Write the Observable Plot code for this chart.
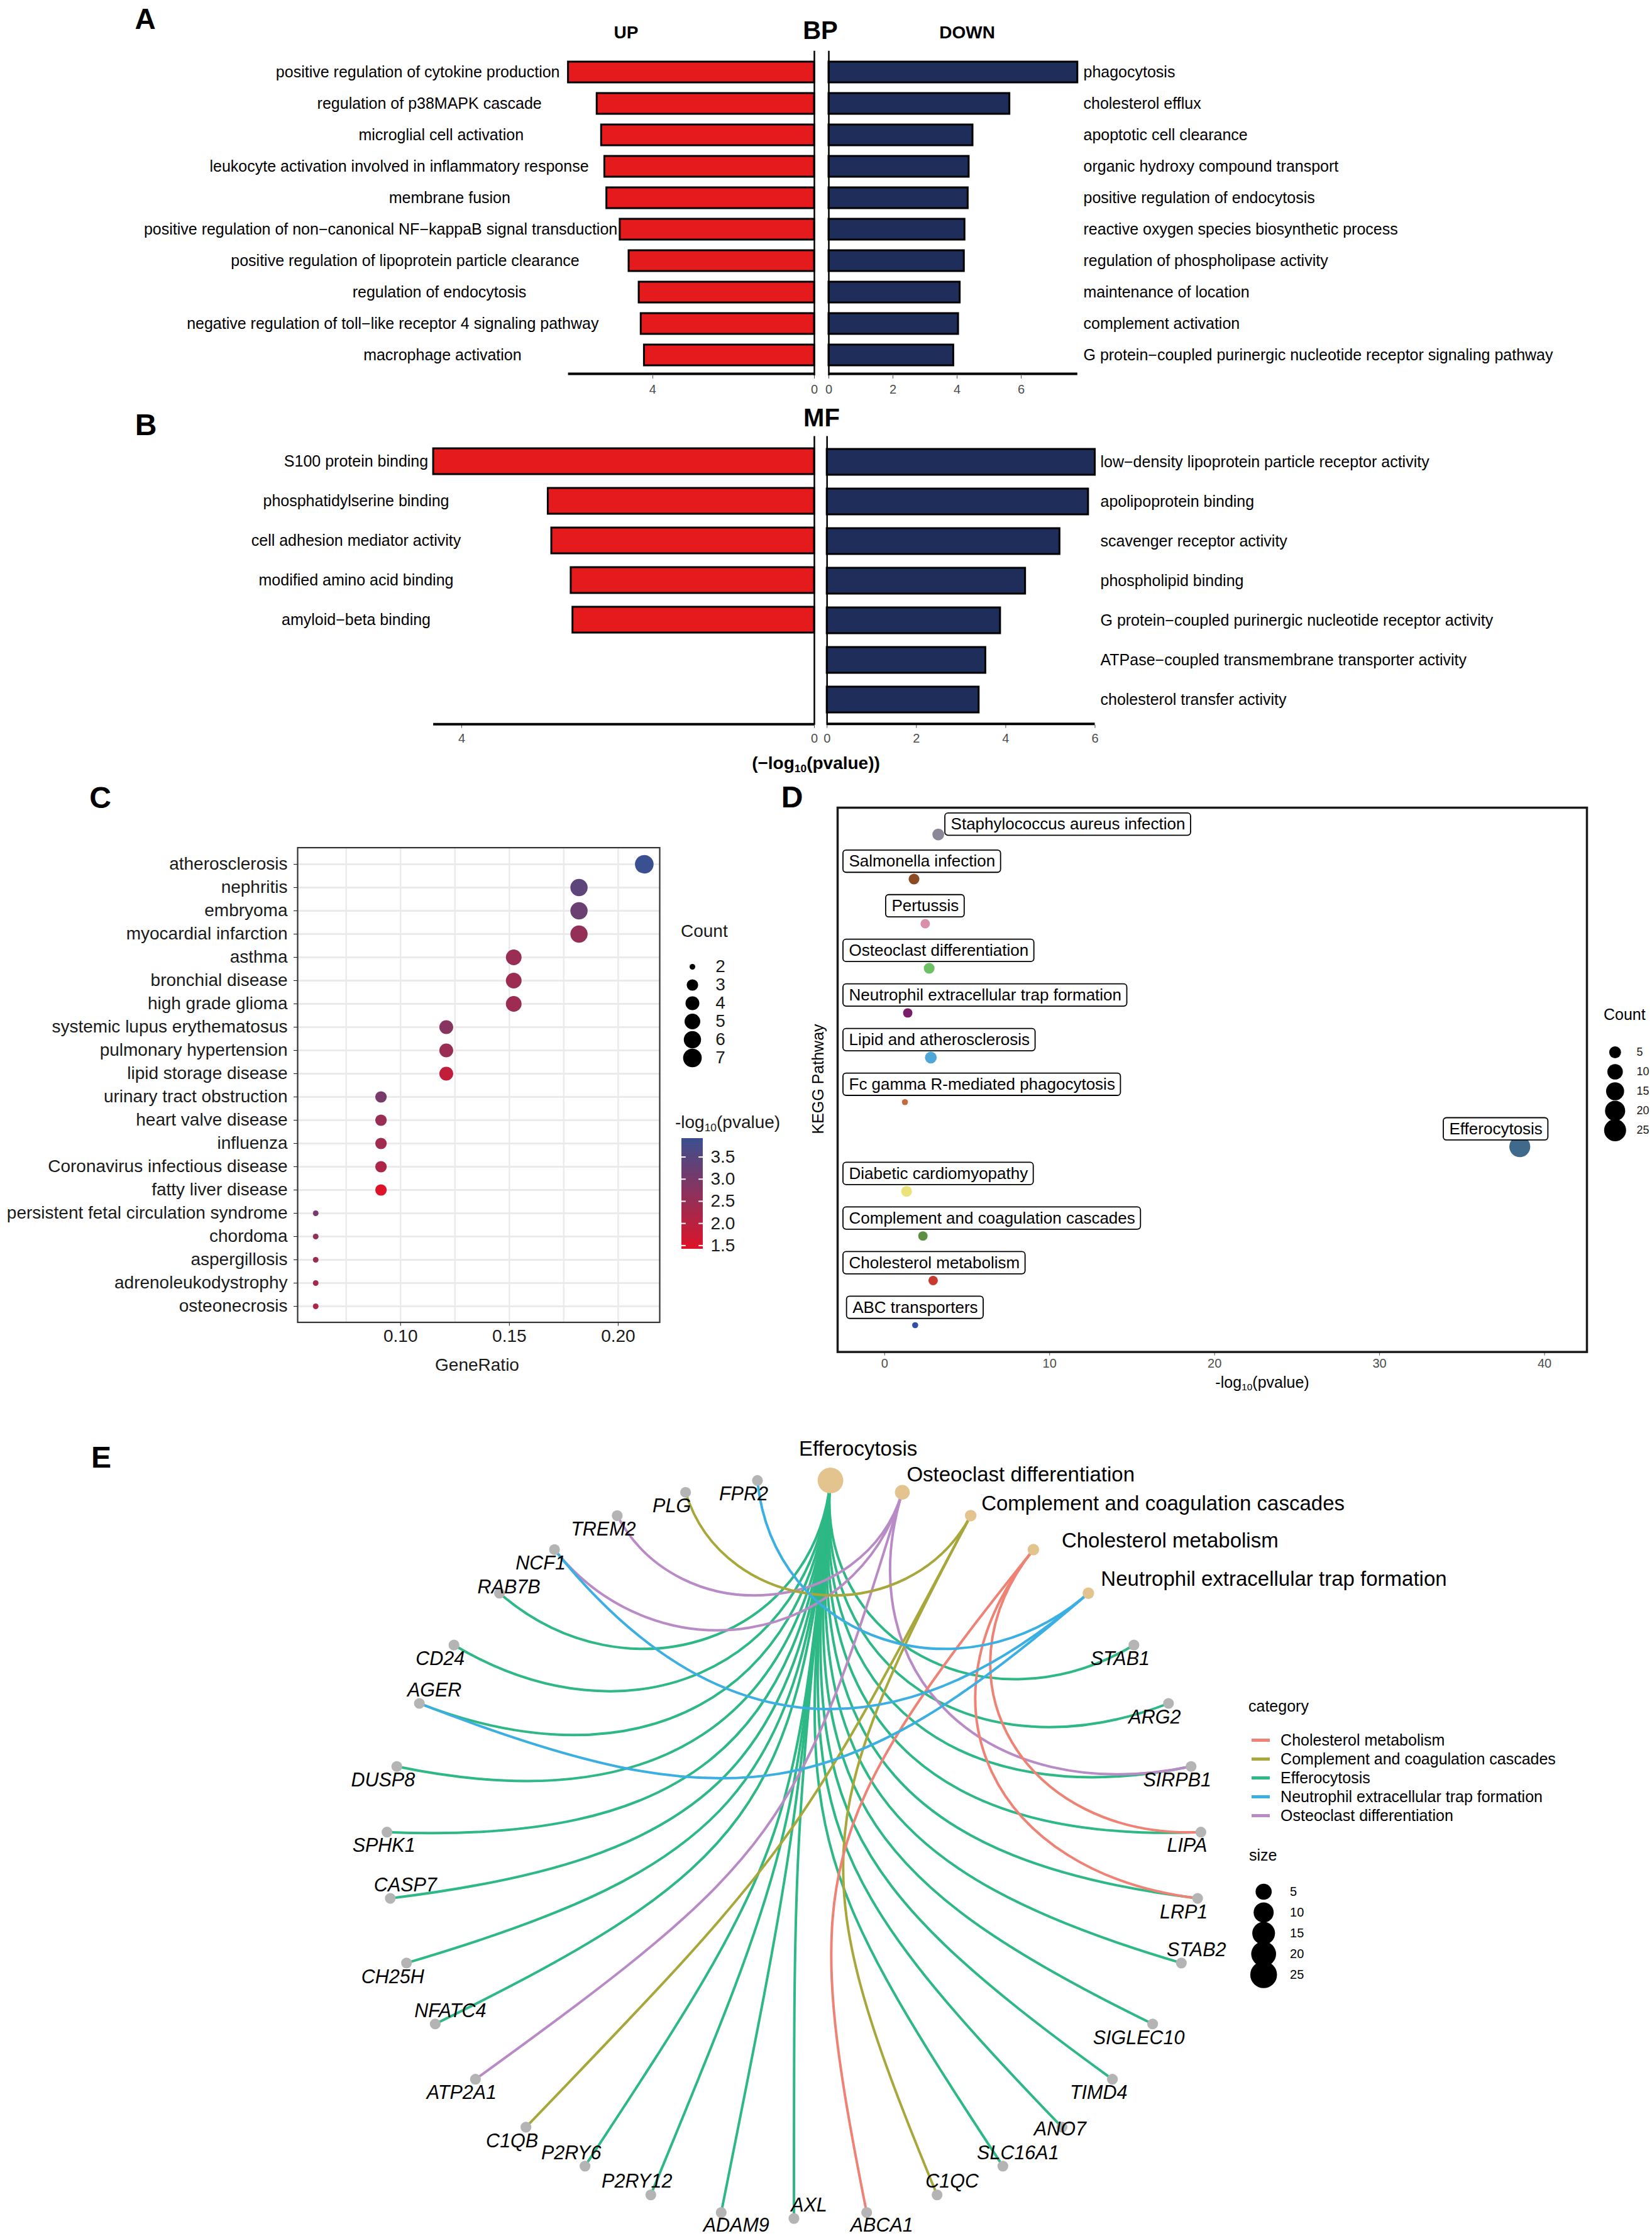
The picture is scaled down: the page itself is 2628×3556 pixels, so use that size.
<!DOCTYPE html>
<html>
<head>
<meta charset="utf-8">
<script src="https://cdn.jsdelivr.net/npm/d3@7"></script>
<script src="https://cdn.jsdelivr.net/npm/@observablehq/plot@0.6"></script>
<style>
html, body { margin: 0; padding: 0; background: #fff; }
#page { position: relative; width: 2628px; height: 3556px; overflow: hidden; background: #fff;
  font-family: "Liberation Sans", Arial, Helvetica, sans-serif; }
.box { position: absolute; }
.lbl { position: absolute; white-space: nowrap; line-height: 1; color: #000; }
.lbl sub { font-size: 0.62em; vertical-align: -0.28em; line-height: 0; }
</style>
</head>
<body>
<div id="page"></div>
<script>
// ====================== DATA ======================
// Panel A (BP)
const bpUpTerms = [
  "positive regulation of cytokine production",
  "regulation of p38MAPK cascade",
  "microglial cell activation",
  "leukocyte activation involved in inflammatory response",
  "membrane fusion",
  "positive regulation of non−canonical NF−kappaB signal transduction",
  "positive regulation of lipoprotein particle clearance",
  "regulation of endocytosis",
  "negative regulation of toll−like receptor 4 signaling pathway",
  "macrophage activation"
];
const bpUpValues = [6.09, 5.38, 5.27, 5.19, 5.14, 4.81, 4.59, 4.34, 4.29, 4.21];
const bpDownTerms = [
  "phagocytosis",
  "cholesterol efflux",
  "apoptotic cell clearance",
  "organic hydroxy compound transport",
  "positive regulation of endocytosis",
  "reactive oxygen species biosynthetic process",
  "regulation of phospholipase activity",
  "maintenance of location",
  "complement activation",
  "G protein−coupled purinergic nucleotide receptor signaling pathway"
];
const bpDownValues = [7.76, 5.64, 4.49, 4.37, 4.34, 4.24, 4.22, 4.09, 4.04, 3.89];

// Panel B (MF)
const mfUpTerms = [
  "S100 protein binding",
  "phosphatidylserine binding",
  "cell adhesion mediator activity",
  "modified amino acid binding",
  "amyloid−beta binding"
];
const mfUpValues = [4.32, 3.02, 2.98, 2.76, 2.74];
const mfDownTerms = [
  "low−density lipoprotein particle receptor activity",
  "apolipoprotein binding",
  "scavenger receptor activity",
  "phospholipid binding",
  "G protein−coupled purinergic nucleotide receptor activity",
  "ATPase−coupled transmembrane transporter activity",
  "cholesterol transfer activity"
];
const mfDownValues = [6.00, 5.85, 5.21, 4.44, 3.88, 3.55, 3.40];
const upTicks = [0, 4];
const downTicks = [0, 2, 4, 6];

// Panel C (disease enrichment)
const diseases = [
  "atherosclerosis", "nephritis", "embryoma", "myocardial infarction", "asthma",
  "bronchial disease", "high grade glioma", "systemic lupus erythematosus", "pulmonary hypertension",
  "lipid storage disease", "urinary tract obstruction", "heart valve disease", "influenza",
  "Coronavirus infectious disease", "fatty liver disease", "persistent fetal circulation syndrome",
  "chordoma", "aspergillosis", "adrenoleukodystrophy", "osteonecrosis"
];
const diseaseGeneRatio = [0.212, 0.182, 0.182, 0.182, 0.152, 0.152, 0.152, 0.121, 0.121, 0.121,
  0.091, 0.091, 0.091, 0.091, 0.091, 0.061, 0.061, 0.061, 0.061, 0.061];
const diseaseCount = [7, 6, 6, 6, 5, 5, 5, 4, 4, 4, 3, 3, 3, 3, 3, 2, 2, 2, 2, 2];
const diseaseLogP = [3.92, 3.40, 3.20, 2.55, 2.45, 2.42, 2.42, 2.75, 2.45, 1.85,
  3.00, 2.45, 2.35, 2.15, 1.42, 3.00, 2.60, 2.45, 2.35, 2.15];
const cTicks = [0.10, 0.15, 0.20];
const cGrid = [0.075, 0.10, 0.125, 0.15, 0.175, 0.20];
const cCountKeys = [2, 3, 4, 5, 6, 7];
const cColorBreaks = [1.5, 2.0, 2.5, 3.0, 3.5];

// Panel D (KEGG)
const keggPathways = [
  "Staphylococcus aureus infection", "Salmonella infection", "Pertussis", "Osteoclast differentiation",
  "Neutrophil extracellular trap formation", "Lipid and atherosclerosis", "Fc gamma R-mediated phagocytosis",
  "Efferocytosis", "Diabetic cardiomyopathy", "Complement and coagulation cascades",
  "Cholesterol metabolism", "ABC transporters"
];
const keggLogP = [3.25, 1.78, 2.46, 2.70, 1.40, 2.80, 1.23, 38.5, 1.33, 2.32, 2.94, 1.85];
const keggCount = [5, 4, 3, 4, 3, 5, 2, 22, 4, 3, 3, 2];
const keggColors = ["#8B8799", "#8C4A22", "#D98FA8", "#6CC164", "#7B1C6A", "#4FA6D8",
  "#C46A3E", "#3F6A8C", "#ECE27A", "#5B8F42", "#C8392E", "#2F4FA8"];
const dTicks = [0, 10, 20, 30, 40];
const dCountKeys = [5, 10, 15, 20, 25];

// Panel E (gene-concept network)
const ePathways = ["Efferocytosis", "Osteoclast differentiation", "Complement and coagulation cascades",
  "Cholesterol metabolism", "Neutrophil extracellular trap formation"];
const ePathwayCount = [22, 4, 3, 3, 3];
const eGenes = ["STAB1", "ARG2", "SIRPB1", "LIPA", "LRP1", "STAB2", "SIGLEC10", "TIMD4", "ANO7",
  "SLC16A1", "C1QC", "ABCA1", "AXL", "ADAM9", "P2RY12", "P2RY6", "C1QB", "ATP2A1", "NFATC4",
  "CH25H", "CASP7", "SPHK1", "DUSP8", "AGER", "CD24", "RAB7B", "NCF1", "TREM2", "PLG", "FPR2"];
const efferocytosisGenes = ["STAB1", "ARG2", "SIRPB1", "LIPA", "LRP1", "STAB2", "SIGLEC10", "TIMD4",
  "ANO7", "SLC16A1", "AXL", "ADAM9", "P2RY12", "P2RY6", "NFATC4", "CH25H", "CASP7", "SPHK1",
  "DUSP8", "AGER", "CD24", "RAB7B"];
const osteoclastGenes = ["SIRPB1", "ATP2A1", "NCF1", "TREM2"];
const complementGenes = ["C1QC", "C1QB", "PLG"];
const cholesterolGenes = ["LIPA", "LRP1", "ABCA1"];
const netGenes = ["AGER", "NCF1", "FPR2"];
const categoryOrder = ["Cholesterol metabolism", "Complement and coagulation cascades", "Efferocytosis",
  "Neutrophil extracellular trap formation", "Osteoclast differentiation"];
const categoryColors = ["#EE8274", "#A8A73B", "#2DB886", "#3BAFE2", "#B98BC6"];
const eSizeKeys = [5, 10, 15, 20, 25];

// ====================== HELPERS ======================
const FONT = '"Liberation Sans", Arial, Helvetica, sans-serif';
const page = document.getElementById("page");
const ctx = document.createElement("canvas").getContext("2d");
const intFormat = d3.format("d");
function textWidth(s, size, fontStyle = "normal") {
  ctx.font = `${fontStyle} normal ${size}px ${FONT}`;
  return ctx.measureText(s).width;
}
function place(node, left, top, w, h) {
  const d = document.createElement("div");
  d.className = "box";
  d.style.left = left + "px"; d.style.top = top + "px";
  d.style.width = w + "px"; d.style.height = h + "px";
  d.appendChild(node);
  page.appendChild(d);
}
function label(html, x, y, o = {}) {
  const d = document.createElement("div");
  d.className = "lbl";
  d.innerHTML = html;
  d.style.fontSize = (o.size || 25) + "px";
  d.style.fontWeight = o.weight || "normal";
  d.style.color = o.color || "#000";
  if (o.lineHeight) d.style.lineHeight = o.lineHeight;
  d.style.left = x + "px"; d.style.top = y + "px";
  const tx = o.anchor === "start" ? "0" : o.anchor === "end" ? "-100%" : "-50%";
  d.style.transform = `translate(${tx},-50%)` + (o.rotate ? ` rotate(${o.rotate}deg)` : "");
  page.appendChild(d);
}
function style(extra = {}) {
  return Object.assign({fontFamily: FONT, fontSize: "20px", background: "none", overflow: "visible",
    maxWidth: "none", color: "#4d4d4d"}, extra);
}
// ggplot-like area palette: radius grows with sqrt of the rescaled value
function areaScale(d0, d1, r0, r1) {
  return v => r0 + (r1 - r0) * Math.sqrt(Math.max(0, (v - d0) / (d1 - d0)));
}

// ====================== PANELS A & B ======================
const UP_FILL = "#E41A1C", DOWN_FILL = "#1F2D5A";
function barPanel(o) {
  const n = o.terms.length;
  const data = o.terms.map((t, i) => ({term: t, value: o.values[i]}));
  const max = d3.max(o.values);
  const up = o.side === "up";
  const W = o.width, H = o.height;
  const mTop = o.frameTop - o.top, mBottom = o.top + H - o.frameBottom;
  const mLeft = up ? o.maxX - o.left : o.zeroX - o.left;
  const mRight = up ? o.left + W - o.zeroX : o.left + W - o.maxX;
  const yr = [o.yRange[0] - o.top, o.yRange[1] - o.top];
  const step = (yr[1] - yr[0]) / (n - o.pInner + 2 * o.pOuter);
  const lastCenter = yr[0] + step * o.pOuter + step * (1 - o.pInner) / 2 + (n - 1) * step;
  const axisDy = (o.frameBottom - o.top) - lastCenter;
  const xs = d3.scaleLinear([0, max], [o.zeroX - o.left, o.maxX - o.left]);
  const labels = data.map(d => {
    const w = textWidth(d.term, 25);
    const lx = up ? o.anchorX - o.hjust * w : o.labelX;
    return {term: d.term, lx: xs.invert(lx - o.left)};
  });
  const chart = Plot.plot({
    width: W, height: H,
    marginLeft: mLeft, marginRight: mRight, marginTop: mTop, marginBottom: mBottom,
    style: style(),
    x: {domain: [0, max], reverse: up, ticks: o.ticks, tickFormat: intFormat, tickSize: 5, tickPadding: 9, label: null},
    y: {type: "band", domain: o.terms, range: yr, paddingInner: o.pInner, paddingOuter: o.pOuter, axis: null},
    marks: [
      Plot.barX(data, {x: "value", y: "term", fill: up ? UP_FILL : DOWN_FILL, stroke: "#000", strokeWidth: 3}),
      Plot.ruleX([0], {stroke: "#000", strokeWidth: 2.5}),
      Plot.ruleY([o.terms[n - 1]], {x1: 0, x2: max, stroke: "#000", strokeWidth: 4, dy: axisDy}),
      Plot.text(labels, {x: "lx", y: "term", text: "term", textAnchor: "start", fontSize: 25, fill: "#000"})
    ]
  });
  place(chart, o.left, o.top, W, H);
}

barPanel({side: "up", terms: bpUpTerms, values: bpUpValues, ticks: upTicks,
  left: 0, top: 0, width: 1300, height: 640, zeroX: 1295, maxX: 903.6,
  frameTop: 80.8, frameBottom: 597, yRange: [80.8, 597], pInner: 0.35, pOuter: 0.255,
  anchorX: 752.7, hjust: 0.696});
barPanel({side: "down", terms: bpDownTerms, values: bpDownValues, ticks: downTicks,
  left: 1300, top: 0, width: 1328, height: 640, zeroX: 1318, maxX: 1713.8,
  frameTop: 80.8, frameBottom: 597, yRange: [80.8, 597], pInner: 0.35, pOuter: 0.255,
  labelX: 1723});
barPanel({side: "up", terms: mfUpTerms, values: mfUpValues, ticks: upTicks,
  left: 0, top: 640, width: 1300, height: 620, zeroX: 1295, maxX: 689.1,
  frameTop: 693.5, frameBottom: 1152.7, yRange: [693.5, 1025.1], pInner: 0.357, pOuter: 0.277,
  anchorX: 566, hjust: 0.5});
barPanel({side: "down", terms: mfDownTerms, values: mfDownValues, ticks: downTicks,
  left: 1300, top: 640, width: 1328, height: 620, zeroX: 1315.2, maxX: 1741.5,
  frameTop: 693.5, frameBottom: 1152.7, yRange: [693.5, 1152.7], pInner: 0.357, pOuter: 0.277,
  labelX: 1750});

label("A", 231, 31, {size: 46, weight: "bold", lineHeight: 0.78});
label("BP", 1305, 48, {size: 40, weight: "bold"});
label("UP", 996, 52, {size: 28, weight: "bold"});
label("DOWN", 1538.6, 52, {size: 28, weight: "bold"});
label("B", 232, 676, {size: 48, weight: "bold", lineHeight: 0.78});
label("MF", 1307, 664, {size: 40, weight: "bold"});
label("(−log<sub>10</sub>(pvalue))", 1298, 1214, {size: 28, weight: "bold"});

// ====================== PANEL C ======================
const C_LOW = "#DD1429", C_HIGH = "#3B5090";
const cColor = {type: "linear", domain: [1.42, 3.92], range: [C_LOW, C_HIGH]};
const cSize = areaScale(2, 7, 4.5, 14.8);
const cData = diseases.map((d, i) => ({disease: d, ratio: diseaseGeneRatio[i], count: diseaseCount[i], logp: diseaseLogP[i]}));
{
  const chart = Plot.plot({
    width: 1240, height: 900, marginLeft: 473, marginRight: 191, marginTop: 47.6, marginBottom: 97.5,
    style: style({fontSize: "28px", color: "#1a1a1a"}),
    x: {domain: [0.0527, 0.2191], ticks: cTicks, tickFormat: d3.format(".2f"), tickSize: 6, tickPadding: 5, label: null},
    y: {type: "point", domain: diseases, padding: 0.6, tickSize: 6, tickPadding: 10, label: null},
    color: cColor,
    r: {type: "identity"},
    marks: [
      Plot.ruleX(cGrid, {stroke: "#EBEBEB", strokeWidth: 2.5}),
      Plot.ruleY(diseases, {stroke: "#EBEBEB", strokeWidth: 3}),
      Plot.dot(cData, {x: "ratio", y: "disease", r: d => cSize(d.count), fill: "logp"}),
      Plot.frame({stroke: "#333", strokeWidth: 2.2})
    ]
  });
  place(chart, 0, 1300, 1240, 900);

  const countLegend = Plot.plot({
    width: 160, height: 220, marginLeft: 41, marginRight: 100, marginTop: 10, marginBottom: 10,
    style: style({fontSize: "28px", color: "#1a1a1a"}),
    y: {type: "point", domain: cCountKeys, range: [20.8, 198.4], axis: null},
    r: {type: "identity"},
    marks: [
      Plot.dot(cCountKeys, {frameAnchor: "left", y: d => d, r: d => cSize(d), fill: "#000"}),
      Plot.text(cCountKeys, {frameAnchor: "left", y: d => d, dx: 36.7, text: d => String(d), textAnchor: "start", fontSize: 28, fill: "#1a1a1a"})
    ]
  });
  place(countLegend, 1060, 1500, 160, 220);

  const ramp = d3.range(0, 125).map(i => 1.42 + (3.92 - 1.42) * i / 125);
  const rampStep = (3.92 - 1.42) / 125;
  const colorLegend = Plot.plot({
    width: 200, height: 220, marginLeft: 24, marginRight: 142, marginTop: 20, marginBottom: 24,
    style: style({fontSize: "28px", color: "#1a1a1a"}),
    x: {domain: [0, 1], axis: null},
    y: {domain: [1.42, 3.92], axis: null},
    color: cColor,
    marks: [
      Plot.rect(ramp, {x1: 0, x2: 1, y1: d => d, y2: d => Math.min(3.92, d + rampStep * 1.6), fill: d => d}),
      Plot.ruleY(cColorBreaks, {x1: 0, x2: 0.2, stroke: "#fff", strokeWidth: 2}),
      Plot.ruleY(cColorBreaks, {x1: 0.8, x2: 1, stroke: "#fff", strokeWidth: 2}),
      Plot.text(cColorBreaks, {x: 1, y: d => d, dx: 12, text: d => d.toFixed(1), textAnchor: "start", fontSize: 28, fill: "#1a1a1a"})
    ]
  });
  place(colorLegend, 1060, 1790, 200, 220);
}
label("C", 159.5, 1268.7, {size: 48, weight: "bold", lineHeight: 0.78});
label("GeneRatio", 759, 2170.6, {size: 28, color: "#1a1a1a"});
label("Count", 1083, 1480.6, {size: 28, anchor: "start", color: "#1a1a1a"});
label("-log<sub>10</sub>(pvalue)", 1074, 1785, {size: 28, anchor: "start", color: "#1a1a1a"});

// ====================== PANEL D ======================
{
  const dL = 1240, dT = 1240, dW = 1388, dH = 1000;
  const mL = 1332 - dL, mR = dL + dW - 2524, mT = 1284 - dT, mB = dT + dH - 2149.6;
  const xDomain = [-2.85, 42.57];
  const xs = d3.scaleLinear(xDomain, [mL, dW - mR]);
  const dSize = areaScale(2, 27, 4.83, 18.03);
  const kData = keggPathways.map((p, i) => ({name: p, i, logp: keggLogP[i], count: keggCount[i], color: keggColors[i]}));
  // simple repel: labels sit above their point, kept inside the panel; the top row is pushed to the side;
  // labels near the right edge are nudged inward
  const labels = kData.map(d => {
    const px = xs(d.logp);
    const w = textWidth(d.name, 26) + 18;
    let cx;
    if (d.i === 0) cx = px + 11 + w / 2;
    else if (px > (mL + dW - mR) / 2) cx = Math.min(px - 38, dW - mR - 9 - w / 2);
    else cx = Math.min(Math.max(px, mL + 9 + w / 2), dW - mR - 9 - w / 2);
    return {name: d.name, i: d.i, x1: xs.invert(cx - w / 2), x2: xs.invert(cx + w / 2), xc: xs.invert(cx)};
  });
  const topRow = labels.filter(d => d.i === 0), rest = labels.filter(d => d.i !== 0);
  const boxOpts = (dy) => ({x1: "x1", x2: "x2", y1: d => d.i - 0.25, y2: d => d.i + 0.25, dy, fill: "#fff", stroke: "#000", strokeWidth: 1.8, rx: 5});
  const txtOpts = (dy) => ({x: "xc", y: "i", text: "name", dy, fontSize: 26, fill: "#000"});
  const chart = Plot.plot({
    width: dW, height: dH, marginLeft: mL, marginRight: mR, marginTop: mT, marginBottom: mB,
    style: style({fontSize: "20px", color: "#4d4d4d"}),
    x: {domain: xDomain, ticks: dTicks, tickFormat: intFormat, tickSize: 6, tickPadding: 5, label: null},
    y: {domain: [-0.6, keggPathways.length - 0.4], reverse: true, axis: null},
    color: {type: "identity"},
    r: {type: "identity"},
    marks: [
      Plot.dot(kData, {x: "logp", y: "i", r: d => dSize(d.count), fill: "color"}),
      Plot.rect(rest, boxOpts(-28)),
      Plot.text(rest, txtOpts(-28)),
      Plot.rect(topRow, boxOpts(-16)),
      Plot.text(topRow, txtOpts(-16)),
      Plot.frame({stroke: "#1a1a1a", strokeWidth: 3.5})
    ]
  });
  place(chart, dL, dT, dW, dH);

  const legend = Plot.plot({
    width: 88, height: 210, marginLeft: 28.8, marginRight: 40, marginTop: 10, marginBottom: 10,
    style: style({fontSize: "18px", color: "#1a1a1a"}),
    y: {type: "point", domain: dCountKeys, range: [26, 184], axis: null},
    r: {type: "identity"},
    marks: [
      Plot.dot(dCountKeys, {frameAnchor: "left", y: d => d, r: d => dSize(d), fill: "#000"}),
      Plot.text(dCountKeys, {frameAnchor: "left", y: d => d, dx: 34.2, text: d => String(d), textAnchor: "start", fontSize: 18, fill: "#1a1a1a"})
    ]
  });
  place(legend, 2540, 1630, 88, 210);
}
label("D", 1260, 1268, {size: 48, weight: "bold", lineHeight: 0.78});
label("KEGG Pathway", 1300.8, 1716, {size: 25, rotate: -90});
label("-log<sub>10</sub>(pvalue)", 2008, 2198, {size: 25});
label("Count", 2551, 1612.6, {size: 25, anchor: "start"});

// ====================== PANEL E ======================
{
  const eL = 0, eT = 2250, eW = 2628, eH = 1306;
  const mL = 614.5, mR = eW - 1910.5, mT = 2351.6 - eT, mB = eT + eH - 3527.6;
  const EA = (eW - mL - mR) / 2, EB = (eH - mT - mB) / 2;
  const ECX = mL + EA, ECY = mT + EB;
  const nodes = [...ePathways, ...eGenes];
  const N = nodes.length;
  const pos = new Map(nodes.map((n, i) => {
    const t = (i + 0.5) * 2 * Math.PI / N;     // circular layout, clockwise from top
    return [n, [Math.sin(t), Math.cos(t)]];
  }));
  const colorOf = new Map(categoryOrder.map((c, i) => [c, categoryColors[i]]));
  const sets = [efferocytosisGenes, osteoclastGenes, complementGenes, cholesterolGenes, netGenes];
  const edges = ePathways.flatMap((p, k) => sets[k].map(g => ({p, g})));
  // arc edges bending toward the layout centre (cubic bezier, controls pulled to the centre)
  function arcCurve(context) {
    let pts = [];
    return {
      lineStart() { pts = []; },
      point(x, y) { pts.push([x, y]); },
      lineEnd() {
        const [[x0, y0], [x1, y1]] = [pts[0], pts[pts.length - 1]];
        const u0 = (x0 - ECX) / EA, v0 = (ECY - y0) / EB, u1 = (x1 - ECX) / EA, v1 = (ECY - y1) / EB;
        const c = Math.max(-1, Math.min(1, (u0 * u1 + v0 * v1) / (Math.hypot(u0, v0) * Math.hypot(u1, v1))));
        const k = 1 - Math.sin(Math.acos(c) / 2);
        context.moveTo(x0, y0);
        context.bezierCurveTo(ECX + k * (x0 - ECX), ECY + k * (y0 - ECY), ECX + k * (x1 - ECX), ECY + k * (y1 - ECY), x1, y1);
      },
      areaStart() {}, areaEnd() {}
    };
  }
  const eSize = areaScale(3, 22, 9.2, 20.4);
  const geneData = eGenes.map(g => ({name: g, x: pos.get(g)[0], y: pos.get(g)[1]}));
  const pathData = ePathways.map((p, i) => ({name: p, count: ePathwayCount[i], x: pos.get(p)[0], y: pos.get(p)[1]}));
  const geneSide = {RAB7B: "R", AGER: "AR", CASP7: "AR", NFATC4: "AR", AXL: "AR", C1QC: "AR", SLC16A1: "AR",
    STAB2: "AR", P2RY6: "AL", P2RY12: "AL", ADAM9: "BR", ABCA1: "BR", SPHK1: "B", ANO7: "C"};
  const sideOffset = {BL: [-22, 22], AR: [24, -21], AL: [-22, -21], BR: [24, 21], B: [-5, 22], C: [-3, 3], R: [15, -10]};
  const geneLabelMarks = Object.entries(sideOffset).map(([side, [dx, dy]]) =>
    Plot.text(geneData.filter(d => (geneSide[d.name] || "BL") === side),
      {x: "x", y: "y", text: "name", dx, dy, fontSize: 30.5, fontStyle: "italic", fill: "#000"}));
  const pathNudge = {
    "Efferocytosis": ["middle", 44, -50],
    "Osteoclast differentiation": ["start", 7, -28],
    "Complement and coagulation cascades": ["start", 17, -19],
    "Cholesterol metabolism": ["start", 45, -14],
    "Neutrophil extracellular trap formation": ["start", 20, -22]
  };
  const pathLabelMarks = pathData.map(d => {
    const [anchor, dx, dy] = pathNudge[d.name];
    return Plot.text([d], {x: "x", y: "y", text: "name", dx, dy, textAnchor: anchor, fontSize: 33, fill: "#000"});
  });
  const chart = Plot.plot({
    width: eW, height: eH, marginLeft: mL, marginRight: mR, marginTop: mT, marginBottom: mB,
    style: style(),
    x: {domain: [-1, 1], axis: null},
    y: {domain: [-1, 1], axis: null},
    color: {type: "identity"},
    r: {type: "identity"},
    marks: [
      Plot.link(edges, {
        x1: d => pos.get(d.p)[0], y1: d => pos.get(d.p)[1],
        x2: d => pos.get(d.g)[0], y2: d => pos.get(d.g)[1],
        stroke: d => colorOf.get(d.p), strokeWidth: 4, curve: arcCurve
      }),
      Plot.dot(geneData, {x: "x", y: "y", r: 8.6, fill: "#B4B4B4"}),
      Plot.dot(pathData, {x: "x", y: "y", r: d => eSize(d.count), fill: "#E3C38E"}),
      ...geneLabelMarks,
      ...pathLabelMarks
    ]
  });
  place(chart, eL, eT, eW, eH);

  const catLegend = Plot.plot({
    width: 600, height: 220, marginLeft: 21, marginRight: 550, marginTop: 10, marginBottom: 10,
    style: style({fontSize: "25px", color: "#000"}),
    x: {domain: [0, 1], axis: null},
    y: {type: "point", domain: categoryOrder, range: [32, 182], axis: null},
    color: {type: "identity"},
    marks: [
      Plot.ruleY(categoryOrder, {x1: 0, x2: 1, stroke: d => colorOf.get(d), strokeWidth: 5}),
      Plot.text(categoryOrder, {x: 1, y: d => d, dx: 16.6, text: d => d, textAnchor: "start", fontSize: 25, fill: "#000"})
    ]
  });
  place(catLegend, 1970, 2720, 600, 220);

  const sizeLegend = Plot.plot({
    width: 200, height: 230, marginLeft: 39.7, marginRight: 100, marginTop: 10, marginBottom: 10,
    style: style({fontSize: "20px", color: "#000"}),
    y: {type: "point", domain: eSizeKeys, range: [31, 197], axis: null},
    r: {type: "identity"},
    marks: [
      Plot.dot(eSizeKeys, {frameAnchor: "left", y: d => d, r: d => eSize(d), fill: "#000"}),
      Plot.text(eSizeKeys, {frameAnchor: "left", y: d => d, dx: 41.9, text: d => String(d), textAnchor: "start", fontSize: 20, fill: "#000"})
    ]
  });
  place(sizeLegend, 1970, 2960, 200, 230);
}
label("E", 161, 2318, {size: 48, weight: "bold", lineHeight: 0.78});
label("category", 1986, 2713, {size: 25, anchor: "start"});
label("size", 1987, 2950, {size: 25, anchor: "start"});
</script>
</body>
</html>
